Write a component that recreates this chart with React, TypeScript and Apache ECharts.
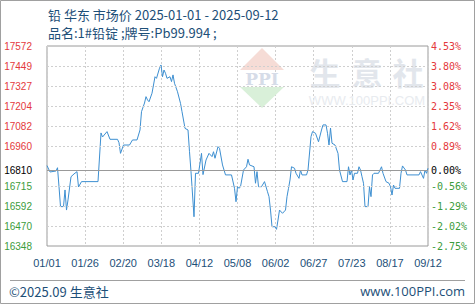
import React, { useEffect, useRef } from "react";
import * as echarts from "echarts";

const TITLE = "铅 华东 市场价 2025-01-01 - 2025-09-12";
const SUBTITLE = "品名:1#铅锭 ;牌号:Pb99.994 ;";
const FOOT_LEFT = "©2025.09 生意社";
const FOOT_RIGHT = "www.100PPI.com";

const BASE = 16810;
const Y_MIN = 16348;
const Y_MAX = 17572;
const Y_STEP = 122.4;
const X_SPAN = 254;
const X_STEP = 25.4;

const dates = [
  "01-01","01-03","01-07","01-08","01-09","01-10","01-12","01-13","01-14","01-15",
  "01-17","01-19","01-21","01-22","01-24","02-04","02-06","02-07","02-10","02-12",
  "02-17","02-18","02-19","02-21","02-25","02-27","03-02","03-04","03-05","03-07",
  "03-08","03-09","03-10","03-12","03-14","03-15","03-17","03-18","03-19","03-20",
  "03-21","03-22","03-24","03-25","03-26","03-27","03-29","03-31","04-01","04-03",
  "04-05","04-06","04-07","04-09","04-10","04-12","04-14","04-15","04-17","04-19",
  "04-21","04-22","04-23","04-25","04-26","04-28","04-30","05-04","05-06","05-07",
  "05-08","05-09","05-10","05-12","05-14","05-15","05-16","05-19","05-20","05-21",
  "05-22","05-24","05-26","05-28","05-29","05-30","05-31","06-02","06-03","06-04",
  "06-05","06-07","06-09","06-10","06-11","06-12","06-13","06-15","06-16","06-18",
  "06-19","06-20","06-23","06-24","06-26","06-27","06-29","07-01","07-03","07-04",
  "07-06","07-07","07-08","07-09","07-10","07-12","07-14","07-15","07-17","07-20",
  "07-21","07-22","07-23","07-24","07-25","07-27","07-28","07-29","07-30","07-31",
  "08-01","08-03","08-04","08-05","08-06","08-07","08-10","08-12","08-13","08-15",
  "08-17","08-18","08-19","08-20","08-21","08-24","08-25","08-26","08-28","08-29",
  "09-06","09-07","09-09","09-10","09-11","09-12",
];

const prices = [
  16840,16801,16807,16827,16711,16589,16589,16691,16568,16630,
  16772,16789,16803,16709,16742,16742,17040,17015,17048,17001,
  17001,16980,16915,16966,16966,16997,16997,17058,17170,17223,
  17262,17242,17231,17283,17384,17374,17436,17456,17384,17425,
  17405,17374,17384,17354,17395,17344,17292,17221,17170,17068,
  17058,16925,16803,16527,16793,16793,16915,16785,16874,16915,
  16895,16925,16885,16956,16946,16844,16783,16783,16701,16619,
  16711,16701,16711,16813,16833,16879,16844,16833,16732,16803,
  16711,16711,16742,16680,16650,16568,16466,16466,16450,16507,
  16568,16548,16568,16650,16701,16752,16833,16824,16793,16762,
  16813,16783,16783,16813,17017,17048,17038,16986,17058,17089,
  17089,17038,16966,17070,16977,16966,16915,16813,16742,16742,
  16833,16783,16813,16752,16793,16793,16833,16813,16772,16732,
  16589,16589,16711,16650,16783,16793,16793,16833,16793,16742,
  16732,16711,16660,16721,16701,16701,16793,16838,16813,16783,
  16783,16803,16762,16813,16793,16824,
];

const DAY = 86400000;
const START = Date.UTC(2025, 0, 1);
const dayIndex = (md: string) => {
  const [m, d] = md.split("-").map(Number);
  return Math.round((Date.UTC(2025, m - 1, d) - START) / DAY);
};
const dayLabel = (v: number) => {
  const dt = new Date(START + Math.floor(v + 0.01) * DAY);
  const mm = String(dt.getUTCMonth() + 1).padStart(2, "0");
  const dd = String(dt.getUTCDate()).padStart(2, "0");
  return mm + "/" + dd;
};

const RED = "#e4393c";
const GREEN = "#3c9c3c";
const NAVY = "#1d4f78";
const isHidden = (v: number) => Math.abs(v - BASE) < 40;
const labelColor = (v: number) => (v > BASE ? RED : v < BASE ? GREEN : "#000");

export default function App() {
  const ref = useRef<HTMLDivElement>(null);
  useEffect(() => {
    if (!ref.current) return;
    const chart = echarts.init(ref.current, null, { renderer: "svg" });
    const data = dates.map((d, i) => [dayIndex(d), prices[i]]);
    const yTicks: number[] = [];
    for (let k = 0; Y_MIN + k * Y_STEP <= Y_MAX + 0.01; k++) yTicks.push(Y_MIN + k * Y_STEP);
    const gridLines = yTicks
      .filter((v) => !isHidden(v) && v > Y_MIN + 1 && v < Y_MAX - 1)
      .map((v) => ({ yAxis: v, lineStyle: { color: "#cfcfcf", type: [2, 2], width: 1 }, label: { show: false } }));
    const leftFont = "Liberation Sans";
    const monoFont = "DejaVu Sans Mono";
    const wm = '"Noto Sans CJK SC"';
    chart.setOption({
      animation: false,
      grid: { left: 47, right: 47, top: 46, bottom: 58, show: true, borderColor: "#9a9a9a", borderWidth: 1 },
      xAxis: {
        type: "value",
        min: 0,
        max: X_SPAN,
        interval: X_STEP,
        axisLine: { show: false },
        axisTick: { show: false },
        splitLine: { show: true, lineStyle: { color: "#cfcfcf", type: [2, 2] } },
        axisLabel: {
          formatter: (v: number) => dayLabel(v),
          color: NAVY,
          fontFamily: leftFont,
          fontSize: 11,
          margin: 11,
          showMinLabel: true,
          showMaxLabel: true,
        },
      },
      yAxis: [
        {
          type: "value",
          min: Y_MIN,
          max: Y_MAX,
          interval: Y_STEP,
          axisLine: { show: false },
          axisTick: { show: false },
          splitLine: { show: false },
          axisLabel: {
            formatter: (v: number) => (isHidden(v) ? "" : String(Math.floor(v + 0.001))),
            color: (v: number) => labelColor(v),
            fontFamily: leftFont,
            fontSize: 10,
            margin: 15,
          },
        },
        {
          type: "value",
          position: "right",
          min: Y_MIN,
          max: Y_MAX,
          interval: Y_STEP,
          axisLine: { show: false },
          axisTick: { show: false },
          splitLine: { show: false },
          axisLabel: {
            formatter: (v: number) => (isHidden(v) ? "" : ((v / BASE - 1) * 100).toFixed(2) + "%"),
            color: (v: number) => labelColor(v),
            fontFamily: monoFont,
            fontSize: 10,
            margin: 3,
          },
        },
      ],
      graphic: [
        { type: "rect", shape: { x: 0.5, y: 0.5, width: 474, height: 303 }, style: { fill: "none", stroke: "#a0a0a0", lineWidth: 1 }, silent: true },
        { type: "line", shape: { x1: 10, y1: 280.5, x2: 465, y2: 280.5 }, style: { stroke: "#a0a0a0", lineWidth: 1 }, silent: true },
        { type: "text", x: 48, y: 14, style: { text: TITLE, font: '13px "Noto Sans CJK SC"', fill: NAVY, verticalAlign: "middle" } },
        { type: "text", x: 48, y: 32, style: { text: SUBTITLE, font: '13px "Noto Sans CJK SC"', fill: NAVY, verticalAlign: "middle" } },
        { type: "text", x: 9, y: 291, style: { text: FOOT_LEFT, font: '13px "Noto Sans CJK SC"', fill: NAVY, verticalAlign: "middle" } },
        { type: "text", x: 465, y: 291, style: { text: FOOT_RIGHT, font: '13px "Open Sans"', fill: NAVY, align: "right", verticalAlign: "middle" } },
        // watermark
        { type: "polygon", z: 1, silent: true, shape: { points: [[262, 48], [284, 70], [240, 70]] }, style: { fill: "#f6dcd6" } },
        { type: "polygon", z: 1, silent: true, shape: { points: [[240, 87], [284, 87], [262, 108]] }, style: { fill: "#d9f0d9" } },
        { type: "text", z: 1, silent: true, x: 262, y: 79, style: { text: "PPI", font: 'bold 17px "DejaVu Serif"', fill: "#d6dce8", align: "center", verticalAlign: "middle" } },
        { type: "text", z: 1, silent: true, x: 325, y: 71, style: { text: "生", font: 'bold 31px ' + wm, fill: "#e2e6ec", align: "center", verticalAlign: "middle" } },
        { type: "text", z: 1, silent: true, x: 367, y: 71, style: { text: "意", font: 'bold 31px ' + wm, fill: "#e2e6ec", align: "center", verticalAlign: "middle" } },
        { type: "text", z: 1, silent: true, x: 408, y: 71, style: { text: "社", font: 'bold 31px ' + wm, fill: "#e2e6ec", align: "center", verticalAlign: "middle" } },
        { type: "text", z: 1, silent: true, x: 367, y: 100, style: { text: "WWW.100PPI.COM", font: '13px "Liberation Sans"', fill: "#e8ebef", align: "center", verticalAlign: "middle" } },
      ],
      series: [
        {
          type: "line",
          data,
          showSymbol: false,
          symbol: "none",
          z: 3,
          lineStyle: { color: "#3d8fd1", width: 1 },
          markLine: {
            silent: true,
            symbol: "none",
            animation: false,
            data: [
              ...gridLines,
              { yAxis: BASE, lineStyle: { color: "#999", type: "solid", width: 1 }, label: { show: true, position: "start", formatter: String(BASE), color: "#000", fontFamily: leftFont, fontSize: 10, distance: 15 } },
              { yAxis: BASE, lineStyle: { color: "#999", type: "solid", width: 1 }, label: { show: true, position: "end", formatter: "0.00%", color: "#000", fontFamily: monoFont, fontSize: 10, distance: 3 } },
            ],
          },
        },
      ],
    });
    return () => chart.dispose();
  }, []);
  return <div ref={ref} style={{ position: "fixed", left: 0, top: 0, width: 475, height: 304, background: "#fff" }} />;
}
